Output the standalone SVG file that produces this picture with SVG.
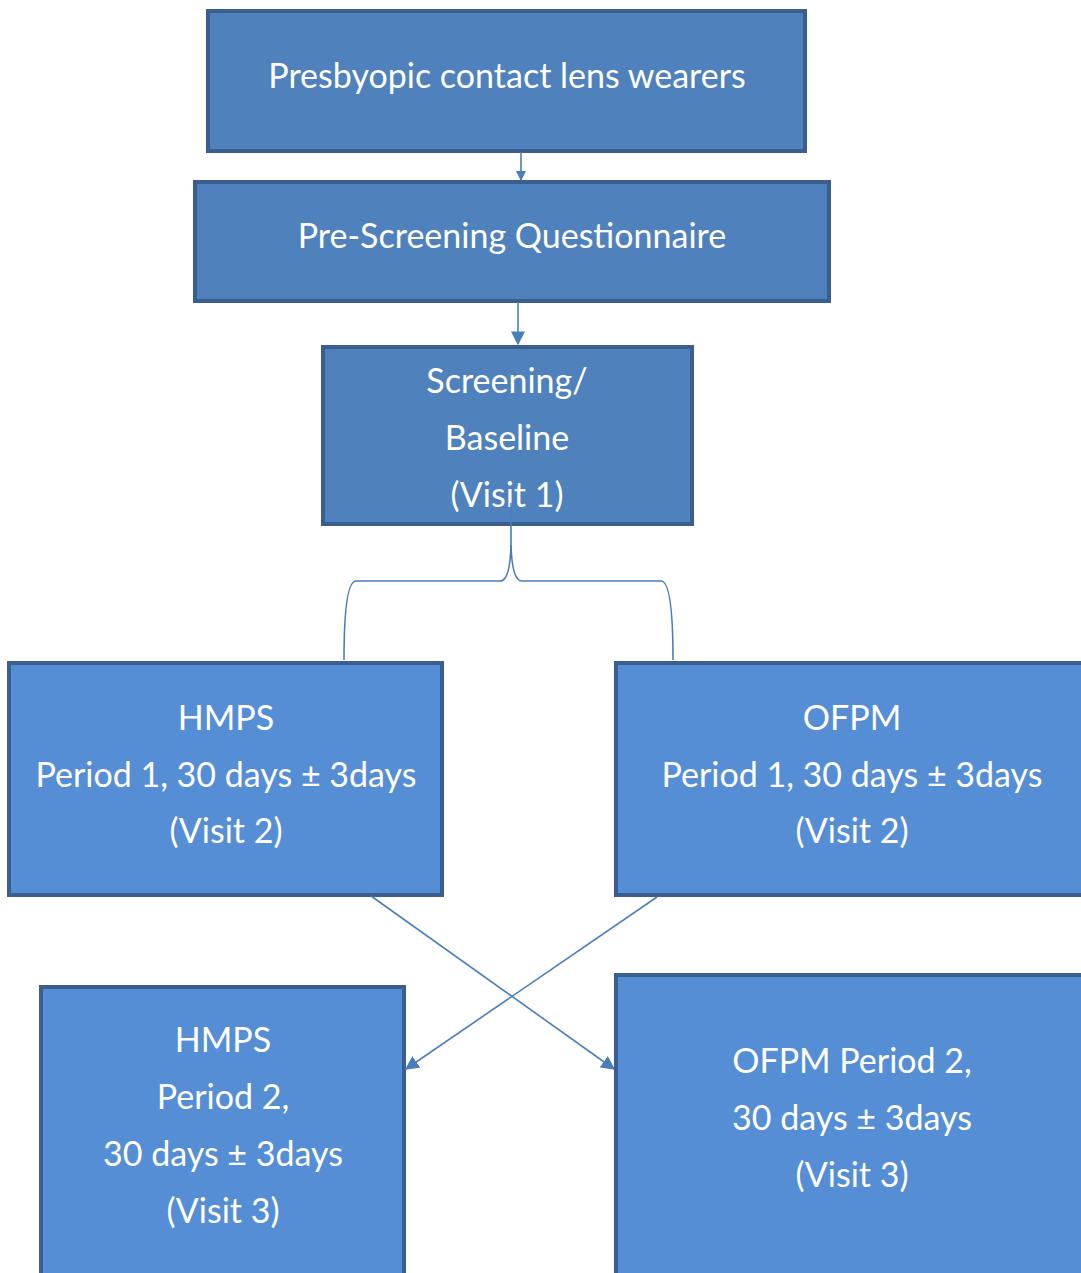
<svg xmlns="http://www.w3.org/2000/svg" width="1081" height="1273" viewBox="0 0 1081 1273">
<style>
.a{fill:#4F81BD;stroke:#3A5F8E;stroke-width:4}
.b{fill:#558ED5;stroke:#3A5F8E;stroke-width:4}
text{font-family:Lato,"Open Sans","Liberation Sans",sans-serif;font-size:34px;fill:#FFFFFF;text-anchor:middle}
.c{fill:none;stroke:#4A7EBB;stroke-width:1.6}
</style>
<defs>
<marker id="ah" viewBox="0 0 10 10" refX="9" refY="5" markerWidth="10" markerHeight="10" markerUnits="userSpaceOnUse" orient="auto">
<path d="M0,0 L10,5 L0,10 z" fill="#4A7EBB"/>
</marker>
<marker id="ah2" viewBox="0 0 10 10" refX="9" refY="5" markerWidth="14" markerHeight="14" markerUnits="userSpaceOnUse" orient="auto">
<path d="M0,0 L10,5 L0,10 z" fill="#4A7EBB"/>
</marker>
</defs>
<rect width="1081" height="1273" fill="#FFFFFF"/>
<g id="n1"><rect class="a" x="208" y="11" width="597" height="140"/><text x="507" y="88">Presbyopic contact lens wearers</text></g>
<g id="n2"><rect class="a" x="195" y="182" width="634" height="119"/><text x="512" y="248">Pre-Screening Questionnaire</text></g>
<g id="n3"><rect class="a" x="323" y="347" width="369" height="177"/><text x="507" y="393">Screening/</text><text x="507" y="450">Baseline</text><text x="507" y="507">(Visit 1)</text></g>
<g id="n4"><rect class="b" x="9" y="663" width="433" height="232"/><text x="226" y="730">HMPS</text><text x="226" y="787">Period 1, 30 days ± 3days</text><text x="226" y="843">(Visit 2)</text></g>
<g id="n5"><rect class="b" x="616" y="663" width="480" height="232"/><text x="852" y="730">OFPM</text><text x="852" y="787">Period 1, 30 days ± 3days</text><text x="852" y="843">(Visit 2)</text></g>
<g id="n6"><rect class="b" x="41" y="987" width="363" height="300"/><text x="223" y="1052">HMPS</text><text x="223" y="1109">Period 2,</text><text x="223" y="1166">30 days ± 3days</text><text x="223" y="1223">(Visit 3)</text></g>
<g id="n7"><rect class="b" x="616" y="975" width="480" height="312"/><text x="852" y="1073">OFPM Period 2,</text><text x="852" y="1130">30 days ± 3days</text><text x="852" y="1187">(Visit 3)</text></g>
<g id="connectors">
<path class="c" d="M521,152 L521,180" marker-end="url(#ah)"/>
<path class="c" d="M518,302 L518,344" marker-end="url(#ah2)"/>
<path class="c" d="M511,503 L511,545 Q510,581 500,581 L356,581 Q344,581 344,660"/>
<path class="c" d="M511,545 Q512,581 522,581 L661,581 Q673,581 673,660"/>
<path class="c" d="M371,896 L614,1069" marker-end="url(#ah2)"/>
<path class="c" d="M657,897 L406,1069" marker-end="url(#ah2)"/>
</g>
</svg>
